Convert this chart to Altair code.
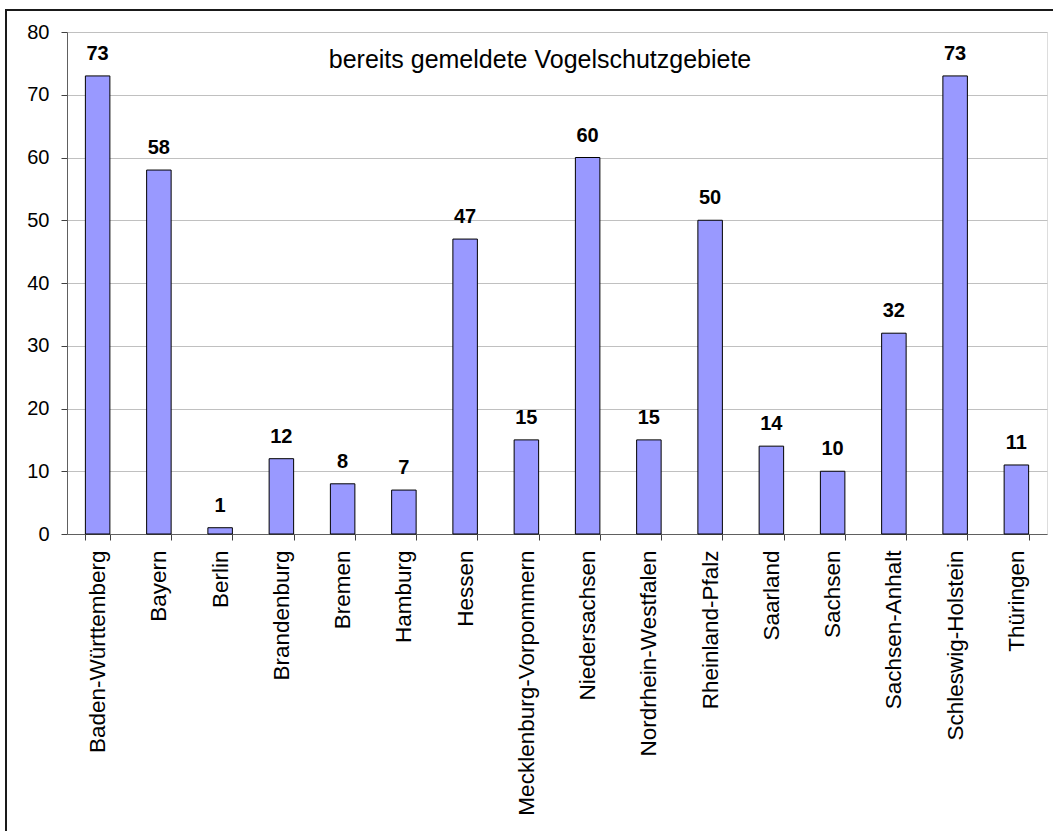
import altair as alt
import pandas as pd

# Bundesländer and number of reported bird protection areas
laender = [
    "Baden-Württemberg", "Bayern", "Berlin", "Brandenburg", "Bremen", "Hamburg",
    "Hessen", "Mecklenburg-Vorpommern", "Niedersachsen", "Nordrhein-Westfalen",
    "Rheinland-Pfalz", "Saarland", "Sachsen", "Sachsen-Anhalt",
    "Schleswig-Holstein", "Thüringen",
]
gebiete = [73, 58, 1, 12, 8, 7, 47, 15, 60, 15, 50, 14, 10, 32, 73, 11]
y_ticks = [0, 10, 20, 30, 40, 50, 60, 70, 80]
titel = "bereits gemeldete Vogelschutzgebiete"

df = pd.DataFrame({"land": laender, "anzahl": gebiete})
df_titel = pd.DataFrame({"titel": [titel]})

FONT = "Liberation Sans"
W, H = 980, 502

x_enc = alt.X(
    "land:N",
    sort=laender,
    scale=alt.Scale(paddingInner=0.6, paddingOuter=0.3),
    axis=alt.Axis(
        title=None,
        labelAngle=270,
        labelFontSize=22.5,
        labelFont=FONT,
        labelColor="#000000",
        labelPadding=10,
        tickBand="extent",
        tickSize=6,
        tickColor="#404040",
        domainColor="#606060",
        labelLimit=400,
    ),
)
y_enc = alt.Y(
    "anzahl:Q",
    scale=alt.Scale(domain=[0, 80], nice=False),
    axis=alt.Axis(
        title=None,
        values=y_ticks,
        labelFontSize=20,
        labelFont=FONT,
        labelColor="#000000",
        labelPadding=12,
        tickSize=6,
        tickColor="#404040",
        domainColor="#606060",
        gridColor="#c0c0c0",
        grid=True,
    ),
)

bars = alt.Chart(df).mark_bar(
    color="#9999ff", stroke="#000000", strokeWidth=1
).encode(x=x_enc, y=y_enc)

labels = alt.Chart(df).mark_text(
    font=FONT, fontSize=20, fontWeight="bold", color="#000000",
    baseline="alphabetic", dy=-16,
).encode(x=alt.X("land:N", sort=laender), y="anzahl:Q", text="anzahl:Q")

# chart heading placed inside the plot area
heading = alt.Chart(df_titel).mark_text(
    font=FONT, fontSize=25, color="#000000", align="center",
    baseline="alphabetic",
).encode(x=alt.value(473), y=alt.value(36), text="titel:N")

# outer frame of the chart (left and top edge)
frame_left = alt.Chart(df_titel).mark_rule(color="#1a1a1a", strokeWidth=2).encode(
    x=alt.value(-61), y=alt.value(-23), y2=alt.value(820)
)
frame_top = alt.Chart(df_titel).mark_rule(color="#1a1a1a", strokeWidth=2).encode(
    x=alt.value(-62), x2=alt.value(1000), y=alt.value(-22)
)

chart = (
    alt.layer(bars, labels, heading, frame_left, frame_top)
    .properties(
        width=W,
        height=H,
        autosize=alt.AutoSizeParams(type="none"),
        padding={"left": 67, "top": 32, "right": 6, "bottom": 297},
    )
    .configure_view(stroke="#808080", strokeWidth=1)
    .configure(background="#ffffff")
)

chart.save("out.html", embed_options={"renderer": "svg", "actions": False})
